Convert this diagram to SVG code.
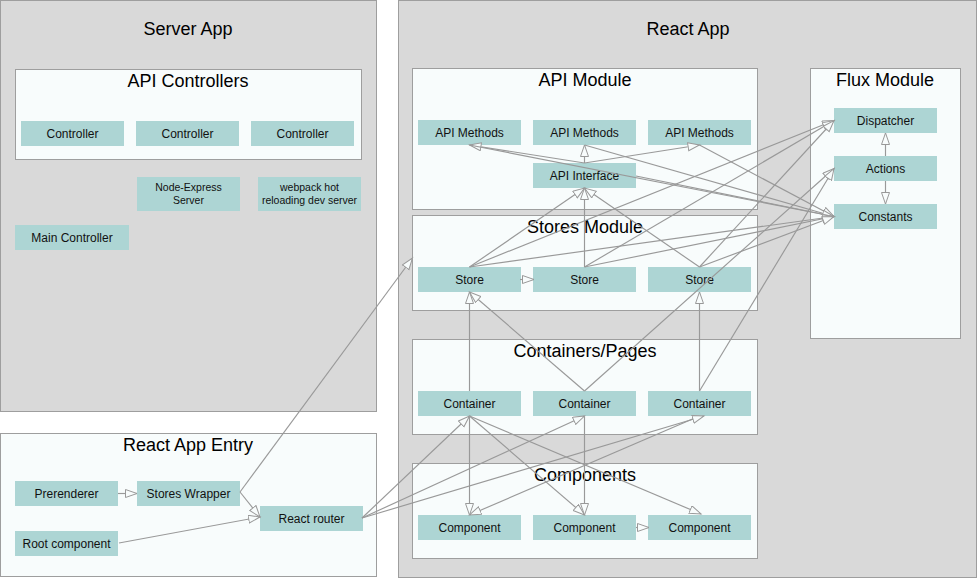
<svg xmlns="http://www.w3.org/2000/svg" width="978" height="579" viewBox="0 0 978 579">
<style>
.outer{fill:#d9d9d9;stroke:#9e9e9e;stroke-width:1}
.mod{fill:#f8fcfc;stroke:#9e9e9e;stroke-width:1}
.node{fill:#add5d4;stroke:none}
.t{font-family:"Liberation Sans",Arial,sans-serif;font-size:12px;fill:#111;text-anchor:middle}
.s{font-size:10.5px}
.h{font-family:"Liberation Sans",Arial,sans-serif;font-size:18px;fill:#000;text-anchor:middle}
.c line{stroke:#999;stroke-width:1.15;fill:none;marker-end:url(#arr)}
</style>
<defs>
<marker id="arr" markerUnits="userSpaceOnUse" markerWidth="15" markerHeight="11" refX="12" refY="4.5" orient="auto">
<path d="M0.5,0.5 L12,4.5 L0.5,8.5 z" fill="#f8fcfc" stroke="#999" stroke-width="1"/>
</marker>
</defs>
<rect width="978" height="579" fill="#ffffff"/>

<g id="server-app">
<rect class="outer" x="0.5" y="0.5" width="376" height="411"/>
<text class="h" x="188" y="35">Server App</text>
</g>
<g id="api-controllers">
<rect class="mod" x="15.5" y="69.5" width="346" height="90"/>
<text class="h" x="188" y="87">API Controllers</text>
</g>
<g id="controller-1"><rect class="node" x="21" y="121" width="103" height="25"/><text class="t" x="72.5" y="137.5">Controller</text></g>
<g id="controller-2"><rect class="node" x="136" y="121" width="103" height="25"/><text class="t" x="187.5" y="137.5">Controller</text></g>
<g id="controller-3"><rect class="node" x="251" y="121" width="103" height="25"/><text class="t" x="302.5" y="137.5">Controller</text></g>
<g id="node-express"><rect class="node" x="137" y="177" width="103" height="34"/><text class="t s" x="188.5" y="191">Node-Express</text><text class="t s" x="188.5" y="204">Server</text></g>
<g id="webpack"><rect class="node" x="258" y="177" width="103" height="34"/><text class="t s" x="309.5" y="191">webpack hot</text><text class="t s" x="309.5" y="204">reloading dev server</text></g>
<g id="main-controller"><rect class="node" x="15" y="225" width="114" height="25"/><text class="t" x="72" y="241.5">Main Controller</text></g>

<g id="react-app-entry">
<rect class="mod" x="0.5" y="433.5" width="376" height="143"/>
<text class="h" x="188" y="451">React App Entry</text>
</g>
<g id="prerenderer"><rect class="node" x="15" y="481" width="103" height="25"/><text class="t" x="66.5" y="497.5">Prerenderer</text></g>
<g id="stores-wrapper"><rect class="node" x="137" y="481" width="103" height="25"/><text class="t" x="188.5" y="497.5">Stores Wrapper</text></g>
<g id="react-router"><rect class="node" x="260" y="506" width="103" height="25"/><text class="t" x="311.5" y="522.5">React router</text></g>
<g id="root-component"><rect class="node" x="15" y="531" width="103" height="25"/><text class="t" x="66.5" y="547.5">Root component</text></g>

<g id="react-app">
<rect class="outer" x="398.5" y="0.5" width="578" height="577"/>
<text class="h" x="688" y="35">React App</text>
</g>
<g id="api-module"><rect class="mod" x="412.5" y="68.5" width="345" height="141"/><text class="h" x="585" y="86">API Module</text></g>
<g id="stores-module"><rect class="mod" x="412.5" y="215.5" width="345" height="95"/><text class="h" x="585" y="233">Stores Module</text></g>
<g id="containers-pages"><rect class="mod" x="412.5" y="339.5" width="345" height="95"/><text class="h" x="585" y="357">Containers/Pages</text></g>
<g id="components"><rect class="mod" x="412.5" y="463.5" width="345" height="95"/><text class="h" x="585" y="481">Components</text></g>
<g id="flux-module"><rect class="mod" x="810.5" y="68.5" width="150" height="270"/><text class="h" x="885" y="86">Flux Module</text></g>

<g id="api-methods-1"><rect class="node" x="418" y="120" width="103" height="25"/><text class="t" x="469.5" y="136.5">API Methods</text></g>
<g id="api-methods-2"><rect class="node" x="533" y="120" width="103" height="25"/><text class="t" x="584.5" y="136.5">API Methods</text></g>
<g id="api-methods-3"><rect class="node" x="648" y="120" width="103" height="25"/><text class="t" x="699.5" y="136.5">API Methods</text></g>
<g id="api-interface"><rect class="node" x="533" y="163" width="103" height="25"/><text class="t" x="584.5" y="179.5">API Interface</text></g>
<g id="store-1"><rect class="node" x="418" y="267" width="103" height="25"/><text class="t" x="469.5" y="283.5">Store</text></g>
<g id="store-2"><rect class="node" x="533" y="267" width="103" height="25"/><text class="t" x="584.5" y="283.5">Store</text></g>
<g id="store-3"><rect class="node" x="648" y="267" width="103" height="25"/><text class="t" x="699.5" y="283.5">Store</text></g>
<g id="container-1"><rect class="node" x="418" y="391" width="103" height="25"/><text class="t" x="469.5" y="407.5">Container</text></g>
<g id="container-2"><rect class="node" x="533" y="391" width="103" height="25"/><text class="t" x="584.5" y="407.5">Container</text></g>
<g id="container-3"><rect class="node" x="648" y="391" width="103" height="25"/><text class="t" x="699.5" y="407.5">Container</text></g>
<g id="component-1"><rect class="node" x="418" y="515" width="103" height="25"/><text class="t" x="469.5" y="531.5">Component</text></g>
<g id="component-2"><rect class="node" x="533" y="515" width="103" height="25"/><text class="t" x="584.5" y="531.5">Component</text></g>
<g id="component-3"><rect class="node" x="648" y="515" width="103" height="25"/><text class="t" x="699.5" y="531.5">Component</text></g>
<g id="dispatcher"><rect class="node" x="834" y="108" width="103" height="25"/><text class="t" x="885.5" y="124.5">Dispatcher</text></g>
<g id="actions"><rect class="node" x="834" y="156" width="103" height="25"/><text class="t" x="885.5" y="172.5">Actions</text></g>
<g id="constants"><rect class="node" x="834" y="204" width="103" height="25"/><text class="t" x="885.5" y="220.5">Constants</text></g>

<g id="connectors" class="c">
<line x1="584.5" y1="163" x2="469.5" y2="145"/>
<line x1="584.5" y1="163" x2="584.5" y2="145"/>
<line x1="584.5" y1="163" x2="699.5" y2="145"/>
<line x1="469.5" y1="145" x2="834" y2="216.5"/>
<line x1="584.5" y1="145" x2="834" y2="216.5"/>
<line x1="699.5" y1="145" x2="834" y2="216.5"/>
<line x1="636" y1="176" x2="834" y2="216.5"/>
<line x1="469.5" y1="267" x2="584.5" y2="188"/>
<line x1="584.5" y1="267" x2="584.5" y2="188"/>
<line x1="699.5" y1="267" x2="584.5" y2="188"/>
<line x1="469.5" y1="267" x2="834" y2="120.5"/>
<line x1="584.5" y1="267" x2="834" y2="120.5"/>
<line x1="699.5" y1="267" x2="834" y2="120.5"/>
<line x1="469.5" y1="267" x2="834" y2="216.5"/>
<line x1="584.5" y1="267" x2="834" y2="216.5"/>
<line x1="699.5" y1="267" x2="834" y2="216.5"/>
<line x1="520" y1="279.5" x2="534" y2="279.5"/>
<line x1="469.5" y1="391" x2="469.5" y2="292"/>
<line x1="584.5" y1="391" x2="469.5" y2="292"/>
<line x1="699.5" y1="391" x2="699.5" y2="292"/>
<line x1="584.5" y1="391" x2="834" y2="168.5"/>
<line x1="699.5" y1="391" x2="834" y2="168.5"/>
<line x1="469.5" y1="416" x2="469.5" y2="515"/>
<line x1="469.5" y1="416" x2="584.5" y2="515"/>
<line x1="469.5" y1="416" x2="701" y2="514"/>
<line x1="584.5" y1="416" x2="584.5" y2="515"/>
<line x1="699.5" y1="416" x2="469.5" y2="515"/>
<line x1="636" y1="527.5" x2="649" y2="527.5"/>
<line x1="885.5" y1="156" x2="885.5" y2="133"/>
<line x1="885.5" y1="181" x2="885.5" y2="204"/>
<line x1="118" y1="493.5" x2="137" y2="493.5"/>
<line x1="240" y1="492" x2="260" y2="517"/>
<line x1="119" y1="543" x2="260" y2="517"/>
<line x1="240" y1="492" x2="412.5" y2="258"/>
<line x1="362" y1="518" x2="469.5" y2="416"/>
<line x1="362" y1="518" x2="584.5" y2="416"/>
<line x1="362" y1="518" x2="704" y2="416"/>
</g>
</svg>
